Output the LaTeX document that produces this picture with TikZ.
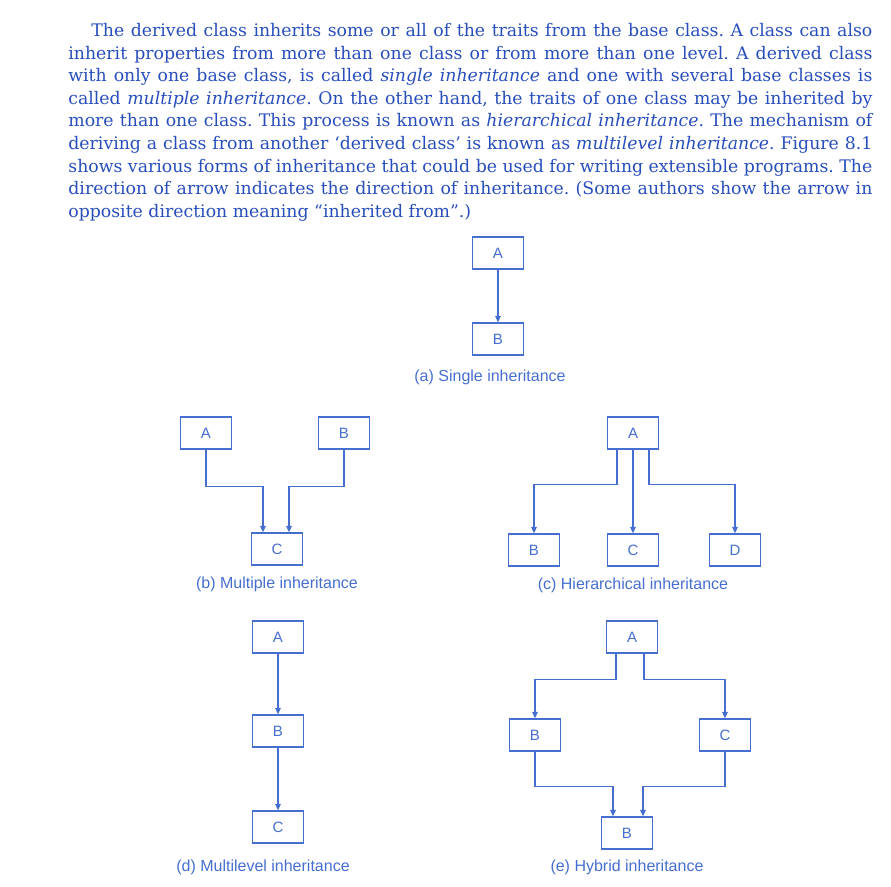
\documentclass[tikz,border=0pt]{standalone}
\usepackage{fontspec}
\newfontfamily\bodyfont{DejaVu Serif}
\newfontfamily\labelfont{Liberation Sans}
\usetikzlibrary{arrows.meta}
\definecolor{txtblue}{RGB}{40,78,188}
\definecolor{lineblue}{RGB}{70,110,208}

\begin{document}
\begin{tikzpicture}[x=0.5pt,y=-0.5pt]
\tikzset{K/.style={rectangle,draw=lineblue,line width=0.7pt,text=lineblue,minimum width=25.5pt,minimum height=16pt,inner sep=0pt,font=\labelfont\fontsize{7.5}{8}\selectfont}}
\tikzset{L/.style={text=lineblue,inner sep=0pt,font=\labelfont\fontsize{8}{9}\selectfont}}
\tikzset{I/.style={draw=lineblue,line width=0.7pt,-{Triangle[length=3.2pt,width=2.8pt]}}}

 \useasboundingbox (0,0) rectangle (891,887);

  \node[anchor=north west,text width=402pt,align=justify,inner sep=0pt,text=txtblue,font=\bodyfont\fontsize{8.65}{11.3}\selectfont\frenchspacing] (txt) at (68,23)
  {\hspace*{11.5pt}The derived class inherits some or all of the traits from the base class. A class can also\linebreak
  inherit properties from more than one class or from more than one level. A derived class\linebreak
  with only one base class, is called \textit{single inheritance} and one with several base classes is\linebreak
  called \textit{multiple inheritance}. On the other hand, the traits of one class may be inherited by\linebreak
  more than one class. This process is known as \textit{hierarchical inheritance}. The mechanism of\linebreak
  deriving a class from another ‘derived class’ is known as \textit{multilevel inheritance}. Figure 8.1\linebreak
  shows various forms of inheritance that could be used for writing extensible programs. The\linebreak
  direction of arrow indicates the direction of inheritance. (Some authors show the arrow in\linebreak
  opposite direction meaning “inherited from”.)};

  \node[K] (aA) at (498,253) {A};
  \node[K] (aB) at (498,339) {B};
  \node[L] (aL) at (490,377) {(a) Single inheritance};
  \draw[I] (aA) -- (aB);

  \node[K] (bA) at (206,433) {A};
  \node[K] (bB) at (344,433) {B};
  \node[K] (bC) at (277,549) {C};
  \node[L] (bL) at (277,584) {(b) Multiple inheritance};
  \draw[I] (bA.south) -- ++(0,37) -| ([xshift=-7pt]bC.north);
  \draw[I] (bB.south) -- ++(0,37) -| ([xshift=6pt]bC.north);

  \node[K] (cA) at (633,433) {A};
  \node[K] (cB) at (534,550) {B};
  \node[K] (cC) at (633,550) {C};
  \node[K] (cD) at (735,550) {D};
  \node[L] (cL) at (633,585) {(c) Hierarchical inheritance};
  \draw[I] ([xshift=-8pt]cA.south) -- ++(0,35) -| (cB);
  \draw[I] (cA) -- (cC);
  \draw[I] ([xshift=8pt]cA.south) -- ++(0,35) -| (cD);

  \node[K] (dA) at (278,637) {A};
  \node[K] (dB) at (278,731) {B};
  \node[K] (dC) at (278,827) {C};
  \node[L] (dL) at (263,867) {(d) Multilevel inheritance};
  \draw[I] (dA) -- (dB);
  \draw[I] (dB) -- (dC);

  \node[K] (eA) at (632,637) {A};
  \node[K] (eB) at (535,735) {B};
  \node[K] (eC) at (725,735) {C};
  \node[K] (eD) at (627,833) {B};
  \node[L] (eL) at (627,867) {(e) Hybrid inheritance};
  \draw[I] ([xshift=-8pt]eA.south) -- ++(0,26) -| (eB);
  \draw[I] ([xshift=6pt]eA.south) -- ++(0,26) -| (eC);
  \draw[I] (eB.south) -- ++(0,35) -| ([xshift=-7pt]eD.north);
  \draw[I] (eC.south) -- ++(0,35) -| ([xshift=8pt]eD.north);
\end{tikzpicture}
\end{document}
